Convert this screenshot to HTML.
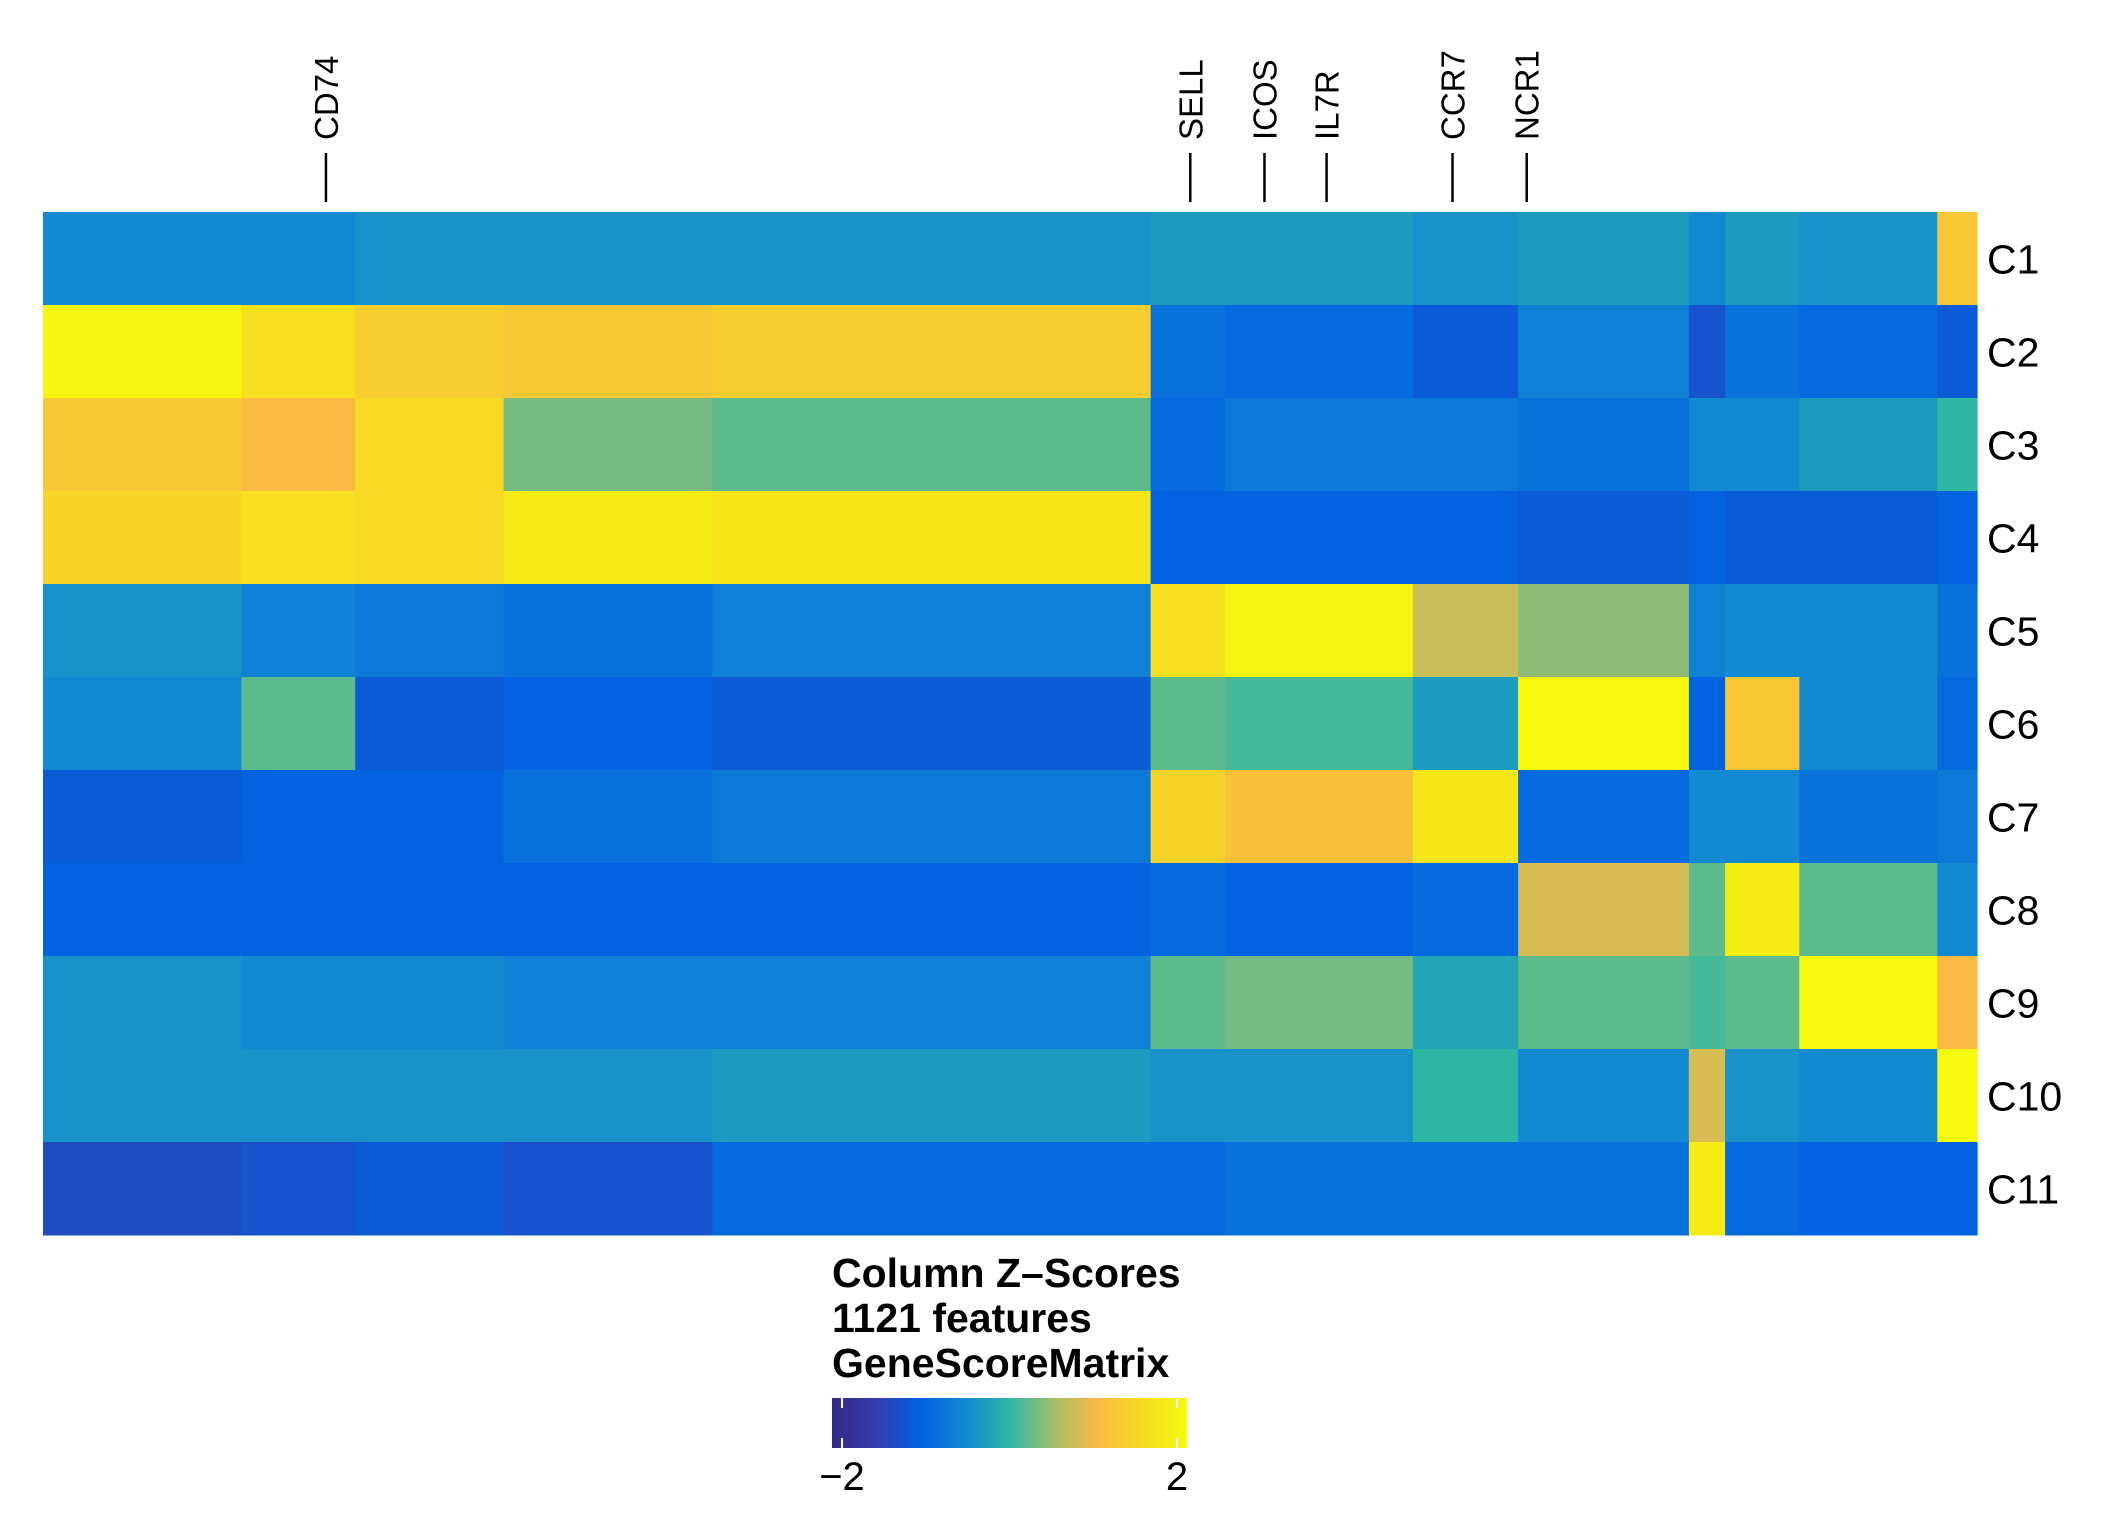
<!DOCTYPE html>
<html><head><meta charset="utf-8">
<style>
html,body{margin:0;padding:0;background:#fff;}
svg{display:block;font-family:"Liberation Sans",Arial,sans-serif;}
</style></head>
<body>
<svg id="chart" width="2108" height="1514" viewBox="0 0 2108 1514" xmlns="http://www.w3.org/2000/svg">
<defs>
<linearGradient id="cbar" x1="0" x2="1" y1="0" y2="0">
<stop offset="0" stop-color="#352A86"/><stop offset="0.125" stop-color="#343DAE"/>
<stop offset="0.25" stop-color="#0262E0"/><stop offset="0.375" stop-color="#1389D2"/>
<stop offset="0.5" stop-color="#2DB7A3"/><stop offset="0.625" stop-color="#A5BE6A"/>
<stop offset="0.75" stop-color="#F8BA43"/><stop offset="0.875" stop-color="#F6DA23"/>
<stop offset="1" stop-color="#F8FA0D"/>
</linearGradient>
</defs>
<g id="cells"></g>
<g id="rowlabels"></g>
<g id="genelabels"></g>
<g>
<text x="832" y="1287" font-size="41" font-weight="bold">Column Z–Scores</text>
<text x="832" y="1332" font-size="41" font-weight="bold">1121 features</text>
<text x="832" y="1377" font-size="41" font-weight="bold">GeneScoreMatrix</text>
<rect x="832" y="1398" width="355" height="50" fill="url(#cbar)"/>
<line x1="842" y1="1398" x2="842" y2="1408" stroke="#fff" stroke-width="2"/>
<line x1="842" y1="1438" x2="842" y2="1448" stroke="#fff" stroke-width="2"/>
<line x1="1177" y1="1398" x2="1177" y2="1408" stroke="#fff" stroke-width="2"/>
<line x1="1177" y1="1438" x2="1177" y2="1448" stroke="#fff" stroke-width="2"/>
<text x="842" y="1490" font-size="40" text-anchor="middle">−2</text>
<text x="1177" y="1490" font-size="40" text-anchor="middle">2</text>
</g>
</svg>
<script>
const rowNames = ["C1","C2","C3","C4","C5","C6","C7","C8","C9","C10","C11"];
const groupSizes = [115,66,86,121,254,43,109,61,99,21,43,80,23];
const z_C1  = [-0.5,-0.5,-0.4,-0.4,-0.4,-0.3,-0.3,-0.4,-0.3,-0.5,-0.3,-0.4,1.2];
const z_C2  = [1.9,1.6,1.3,1.2,1.3,-0.8,-0.9,-1.1,-0.6,-1.2,-0.8,-0.9,-1.1];
const z_C3  = [1.2,1.0,1.5,0.3,0.2,-0.9,-0.7,-0.7,-0.8,-0.5,-0.5,-0.3,0.0];
const z_C4  = [1.4,1.6,1.5,1.8,1.7,-1.0,-1.0,-1.0,-1.1,-1.0,-1.1,-1.1,-1.0];
const z_C5  = [-0.4,-0.6,-0.7,-0.8,-0.6,1.6,1.9,0.7,0.4,-0.6,-0.5,-0.5,-0.8];
const z_C6  = [-0.5,0.2,-1.1,-1.0,-1.1,0.2,0.1,-0.3,2.0,-1.0,1.2,-0.5,-0.9];
const z_C7  = [-1.1,-1.0,-1.0,-0.8,-0.7,1.4,1.1,1.7,-0.9,-0.5,-0.5,-0.8,-0.7];
const z_C8  = [-1.0,-1.0,-1.0,-1.0,-1.0,-0.9,-1.0,-0.9,0.8,0.2,1.8,0.2,-0.5];
const z_C9  = [-0.4,-0.5,-0.5,-0.6,-0.6,0.2,0.3,-0.2,0.2,0.1,0.2,2.0,1.0];
const z_C10 = [-0.4,-0.4,-0.4,-0.4,-0.3,-0.4,-0.4,0.0,-0.5,0.8,-0.4,-0.5,2.0];
const z_C11 = [-1.3,-1.2,-1.1,-1.2,-0.9,-0.9,-0.8,-0.8,-0.8,1.8,-0.9,-1.0,-1.0];
const zRows = [z_C1,z_C2,z_C3,z_C4,z_C5,z_C6,z_C7,z_C8,z_C9,z_C10,z_C11];
const geneNames = ["CD74","SELL","ICOS","IL7R","CCR7","NCR1"];
const geneColumns = [164,665,708,744,817,860];
const palette = ["#352A86","#343DAE","#0262E0","#1389D2","#2DB7A3","#A5BE6A","#F8BA43","#F6DA23","#F8FA0D"];

const NS = "http://www.w3.org/2000/svg";
const X0 = 43, X1 = 1977, Y0 = 212, RH = 93;
const totalCols = groupSizes.reduce((a,b)=>a+b,0);
function xScale(col){ return X0 + (X1 - X0) * col / totalCols; }
function yScale(r){ return Y0 + r * RH; }
function hex(h){ return [1,3,5].map(i=>parseInt(h.substr(i,2),16)); }
function colorOf(z){
  let t = (Math.max(-2,Math.min(2,z)) + 2) / 4 * (palette.length - 1);
  let i = Math.min(palette.length - 2, Math.floor(t)), f = t - i;
  let a = hex(palette[i]), b = hex(palette[i+1]);
  return "rgb(" + a.map((v,k)=>Math.round(v + (b[k]-v)*f)).join(",") + ")";
}
const cells = document.getElementById("cells");
zRows.forEach((row, r) => {
  let c = 0;
  row.forEach((z, g) => {
    const el = document.createElementNS(NS, "rect");
    const xa = xScale(c), xb = xScale(c + groupSizes[g]);
    el.setAttribute("x", xa.toFixed(2));
    el.setAttribute("y", yScale(r));
    el.setAttribute("width", (xb - xa + 0.6).toFixed(2));
    el.setAttribute("height", RH + 0.5);
    el.setAttribute("fill", colorOf(z));
    
    
    cells.appendChild(el);
    c += groupSizes[g];
  });
});
const rl = document.getElementById("rowlabels");
rowNames.forEach((n, r) => {
  const t = document.createElementNS(NS, "text");
  t.setAttribute("x", 1987);
  t.setAttribute("y", yScale(r) + RH/2 + 15);
  t.setAttribute("font-size", "41");
  t.textContent = n;
  
  
  rl.appendChild(t);
});
const gl = document.getElementById("genelabels");
geneNames.forEach((n, i) => {
  const x = xScale(geneColumns[i]);
  const ln = document.createElementNS(NS, "line");
  ln.setAttribute("x1", x); ln.setAttribute("x2", x);
  ln.setAttribute("y1", 153); ln.setAttribute("y2", 202);
  ln.setAttribute("stroke", "#000"); ln.setAttribute("stroke-width", "2.5");
  
  
  gl.appendChild(ln);
  const t = document.createElementNS(NS, "text");
  t.setAttribute("transform", "translate(" + (x + 12) + ",140) rotate(-90)");
  t.setAttribute("font-size", "33");
  t.textContent = n;
  
  
  gl.appendChild(t);
});
</script>
</body></html>
